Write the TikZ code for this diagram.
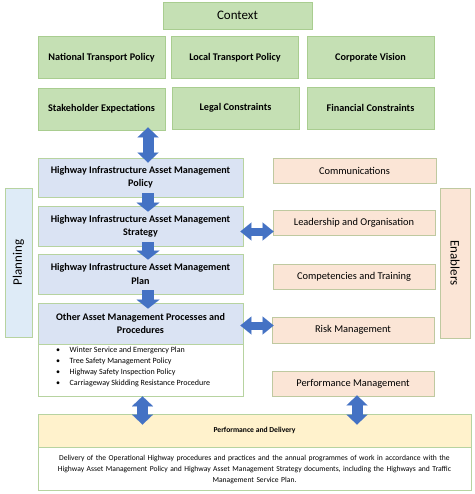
\documentclass[tikz,border=0pt]{standalone}
\usepackage{fontspec}
\setmainfont{Carlito}
\usetikzlibrary{arrows.meta}
\definecolor{gfill}{HTML}{C5E0B4}
\definecolor{gline}{HTML}{A9CD90}
\definecolor{bfill}{HTML}{DAE3F3}
\definecolor{pfill}{HTML}{DEEBF7}
\definecolor{ofill}{HTML}{FBE5D6}
\definecolor{yfill}{HTML}{FFF2CC}
\definecolor{lline}{HTML}{B7D3A0}
\definecolor{oline}{HTML}{BFC9A0}
\definecolor{ablue}{HTML}{4472C4}
\begin{document}
\begin{tikzpicture}[x=1pt,y=-1pt,
  box/.style={draw=gline,line width=0.9pt,inner sep=1pt,align=center},
  gbox/.style={box,fill=gfill,minimum width=127pt,minimum height=42pt,font=\fontsize{10.2}{12}\selectfont\bfseries},
  bbox/.style={box,draw=lline,fill=bfill,minimum width=205pt,minimum height=40pt,font=\fontsize{10.1}{13.3}\selectfont\bfseries},
  obox/.style={box,draw=oline,fill=ofill,minimum width=162pt,minimum height=25pt,font=\fontsize{10.4}{12}\selectfont},
  sidebox/.style={box,draw=lline,minimum width=149pt,font=\fontsize{13}{15}\selectfont},
  varr/.style={ablue,line width=11pt,{Triangle[length=10pt,width=21pt,line width=0.01pt]}-{Triangle[length=10pt,width=21pt,line width=0.01pt]}},
  harr/.style={ablue,line width=8pt,{Triangle[length=11pt,width=18pt,line width=0.01pt]}-{Triangle[length=11pt,width=18pt,line width=0.01pt]}},
  darr/.style={ablue,line width=12pt,-{Triangle[length=9pt,width=23pt,line width=0.01pt]}}]
\useasboundingbox (0,0) rectangle (474,494);
\fill[white] (0,0) rectangle (474,494);
% context
\node[box,fill=gfill,minimum width=149pt,minimum height=27pt,font=\fontsize{13}{15}\selectfont] (ctx) at (237.5,15.5) {Context};
\node[gbox] (ntp) at (101.5,57.5) {National Transport Policy};
\node[gbox] (ltp) at (235,57.5) {Local Transport Policy};
\node[gbox] (cv) at (370.5,57.5) {Corporate Vision};
\node[gbox] (se) at (101.5,109) {Stakeholder Expectations};
\node[gbox] (lc) at (235.5,108) {Legal Constraints};
\node[gbox] (fc) at (370.5,108) {Financial Constraints};
% planning chain
\node[bbox,minimum height=39pt] (pol) at (140.5,177.5) {Highway Infrastructure Asset Management\\Policy};
\node[bbox] (str) at (140.5,226) {Highway Infrastructure Asset Management\\Strategy};
\node[bbox] (plan) at (140.5,274) {Highway Infrastructure Asset Management\\Plan};
\node[bbox,minimum height=41pt] (oth) at (140.5,323.5) {Other Asset Management Processes and\\Procedures};
\node[box,draw=lline,fill=white,minimum width=205pt,minimum height=52pt,anchor=north] (lst) at (oth.south) {};
\node[anchor=north west,inner sep=0pt,align=left,font=\fontsize{8}{11}\selectfont] (lsttxt) at (56,347)
  {\makebox[13.5pt][l]{\textbullet}Winter Service and Emergency Plan\\
   \makebox[13.5pt][l]{\textbullet}Tree Safety Management Policy\\
   \makebox[13.5pt][l]{\textbullet}Highway Safety Inspection Policy\\
   \makebox[13.5pt][l]{\textbullet}Carriageway Skidding Resistance Procedure};
% side boxes
\node[sidebox,fill=pfill,minimum height=27pt,rotate=90] (plng) at (18.5,262.5) {Planning};
\node[sidebox,fill=ofill,draw=oline,minimum height=30pt,minimum width=150pt,rotate=-90] (enab) at (455,263) {Enablers};
% enablers
\node[obox,minimum width=163pt] (comm) at (354.5,170.5) {Communications};
\node[obox] (lead) at (354,222.5) {Leadership and Organisation};
\node[obox] (comp) at (354,276.5) {Competencies and Training};
\node[obox,minimum height=26pt] (risk) at (353,330) {Risk Management};
\node[obox] (perf) at (353,383.5) {Performance Management};
% performance and delivery
\node[box,draw=lline,fill=yfill,minimum width=433pt,minimum height=33pt,font=\fontsize{7.6}{9}\selectfont\bfseries] (pd) at (254.5,430.5) {Performance and Delivery};
\node[box,draw=lline,fill=white,minimum width=433pt,minimum height=43pt,anchor=north,text width=428pt,font=\fontsize{7.6}{11.3}\selectfont] (pdt) at (pd.south)
  {Delivery of the Operational Highway procedures and practices and the annual programmes of work in accordance with the\\
   Highway Asset Management Policy and Highway Asset Management Strategy documents, including the Highways and Traffic\\
   Management Service Plan.};
% arrows
\draw[varr] ([xshift=46.5pt,yshift=3pt]se.south) -- ([xshift=7.5pt,yshift=-5pt]pol.north);
\draw[darr] ([xshift=7.5pt,yshift=4pt]pol.south) -- ([xshift=7.5pt,yshift=-6pt]str.north);
\draw[darr] ([xshift=7.5pt,yshift=4pt]str.south) -- ([xshift=7.5pt,yshift=-6pt]plan.north);
\draw[darr] ([xshift=7.5pt,yshift=4pt]plan.south) -- ([xshift=7.5pt,yshift=-6pt]oth.north);
\draw[harr] ([xshift=-3pt,yshift=-5.5pt]str.east) -- ([xshift=1pt,yshift=-9pt]lead.west);
\draw[harr] ([xshift=-3pt,yshift=-2pt]oth.east) -- ([xshift=2pt,yshift=4.5pt]risk.west);
\draw[varr] ([xshift=2pt,yshift=1pt]lst.south) -- ([xshift=-112pt,yshift=-11pt]pd.north);
\draw[varr] ([xshift=4pt,yshift=1pt]perf.south) -- ([xshift=102.5pt,yshift=-11pt]pd.north);
\end{tikzpicture}
\end{document}
